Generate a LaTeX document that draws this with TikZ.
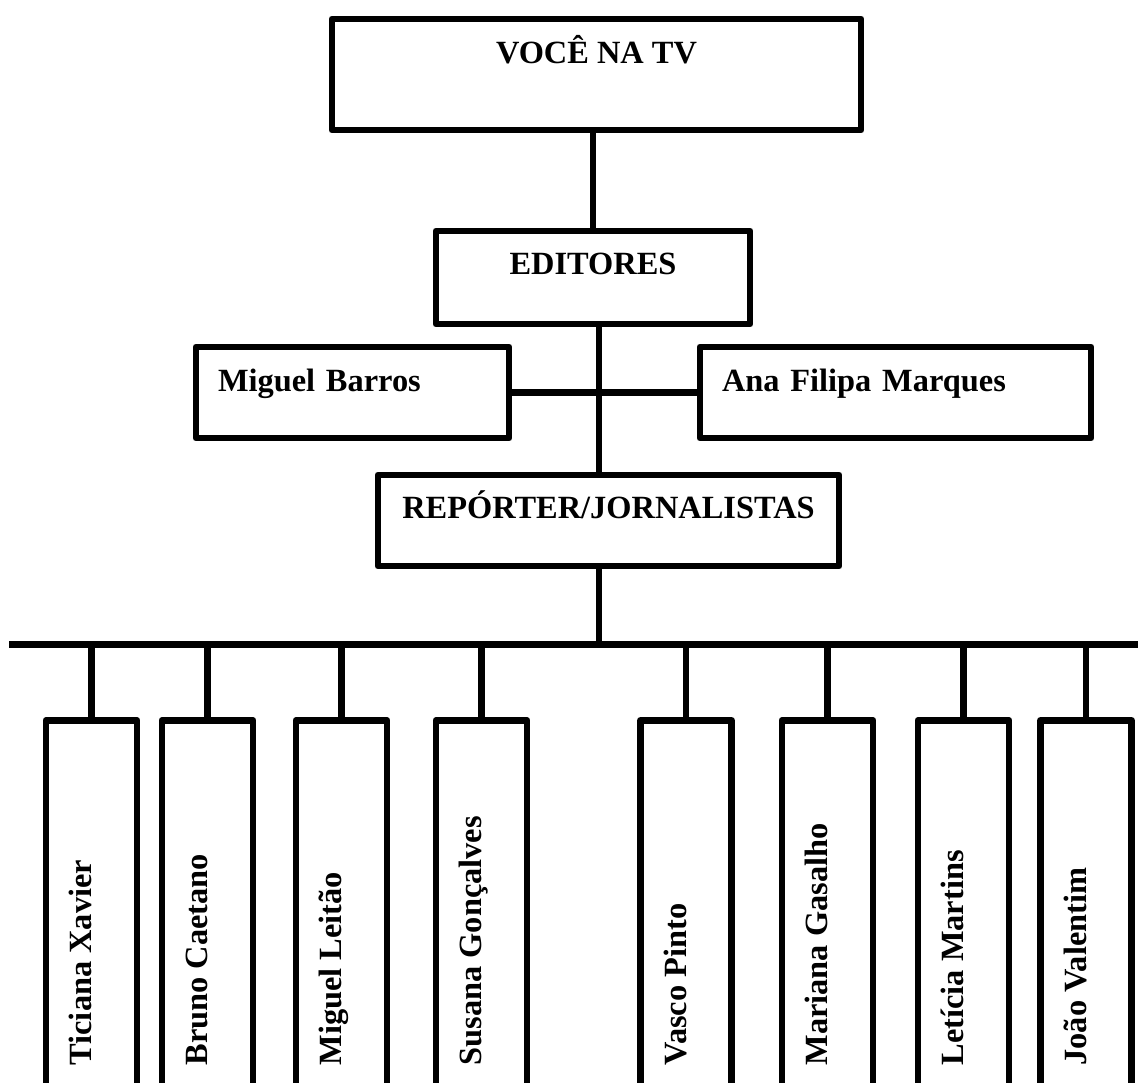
\documentclass[tikz,border=0pt]{standalone}
\usepackage{fontspec}
\setmainfont{Liberation Serif}
\usepackage{graphicx}
\usetikzlibrary{calc, positioning}
\tikzset{
  % heavy black outlines, as in the printed chart
  every picture/.append style = {line width=3.4pt, line join=round},
  chartfont/.style  = {font=\fontsize{16.2}{19}\selectfont\bfseries},
  unitbox/.style    = {draw, chartfont, inner xsep=11pt, inner ysep=0pt, text height=10pt},
  namebox/.style    = {draw, chartfont, inner sep=0pt, anchor=north,
                       minimum width=45.5pt, minimum height=191.5pt},
}
% names in the lower boxes read bottom to top, starting near the foot
\newcommand{\upname}[1]{\rotatebox{90}{\makebox[153.5pt][l]{\smash{#1}}}}

\begin{document}
\begin{tikzpicture}[x=0.5pt, y=-0.5pt]
  \useasboundingbox (0,0) rectangle (1138,1082);
  \clip (0,0) rectangle (1138,1082);
  % head and editors
  \node[unitbox, minimum width=264.5pt, minimum height=55.5pt, text depth=21.5pt]
    (voce) at (596.5,74.5) {VOCÊ NA TV};
  \node[unitbox, minimum width=157pt, minimum height=46.5pt, text depth=13.5pt]
    (editores) at (593,277.5) {EDITORES};
  \node[unitbox, text width=134.5pt, align=left, minimum height=45.5pt, text depth=11.5pt]
    (mbarros) at (352.5,392.5) {Miguel Barros};
  \node[unitbox, text width=173.5pt, align=left, minimum height=45.5pt, text depth=11.5pt]
    (ana) at (895.5,392.5) {Ana Filipa Marques};
  \node[unitbox, minimum width=230.5pt, minimum height=45.5pt, text depth=12.5pt]
    (reporter) at (608.5,520.5) {REPÓRTER/JORNALISTAS};
  % spine and bar
  \coordinate (trunk) at (599,0);
  \coordinate (barL) at (9,644.5);
  \coordinate (barR) at (1145,644.5);
  \draw (voce.south -| editores.north) -- (editores.north);
  \draw (editores.south -| trunk) -- (reporter.north -| trunk);
  \draw (mbarros.east) -- (ana.west);
  \draw (reporter.south -| trunk) -- (trunk |- barL);
  \draw (barL) -- (barR);
  % reporters
  \foreach \cx/\nm/\who in {91.5/ticiana/Ticiana Xavier, 207.5/bruno/Bruno Caetano,
      341.5/mleitao/Miguel Leitão, 481.5/susana/Susana Gonçalves,
      686/vasco/Vasco Pinto, 827.5/mariana/Mariana Gasalho,
      963.5/leticia/Letícia Martins, 1086/joao/João Valentim} {
    \node[namebox] (\nm) at (\cx,717) {\upname{\who}};
    \draw (\nm.north) -- (\nm.north |- barL);
  }
\end{tikzpicture}
\end{document}
